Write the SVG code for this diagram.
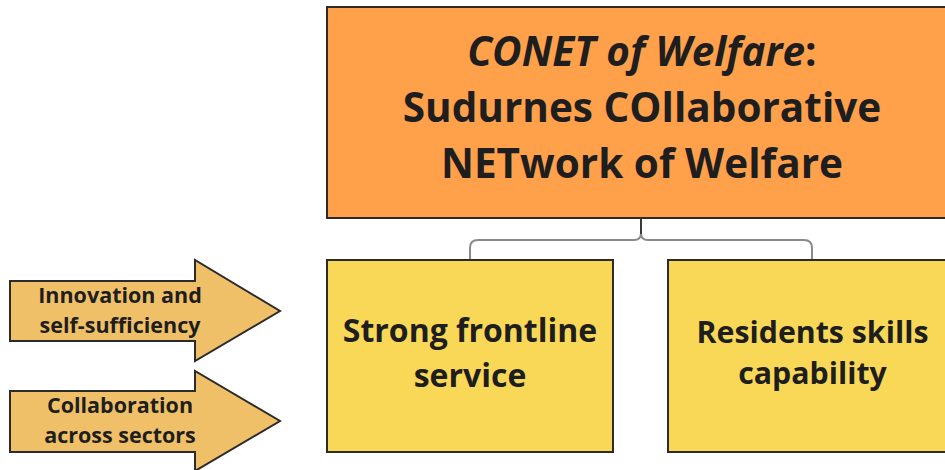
<svg xmlns="http://www.w3.org/2000/svg" width="945" height="470" viewBox="0 0 945 470">
<style>
.box{stroke:#2b2b2b;stroke-width:2}
.t{font-family:"Open Sans","Noto Sans",sans-serif;font-weight:bold;fill:#1e1e1e;text-anchor:middle}
.conn{fill:none;stroke:#8a8a8a;stroke-width:2}
</style>
<rect width="945" height="470" fill="#ffffff"/>
<g id="title">
<rect class="box" x="327" y="7" width="632" height="211" fill="#FFA04B"/>
<text class="t" x="642" y="66" font-size="40.5"><tspan font-style="italic">CONET of Welfare</tspan>:</text>
<text class="t" x="642" y="122" font-size="40.5">Sudurnes COllaborative</text>
<text class="t" x="642" y="178" font-size="40.5">NETwork of Welfare</text>
</g>
<g id="connectors">
<path class="conn" d="M641 218 V233 Q641 240 634 240 H478 Q470 240 470 248 V260"/>
<path class="conn" d="M641 233 Q641 240 648 240 H804 Q812 240 812 248 V260"/>
<line x1="641" y1="218" x2="641" y2="234" stroke="#1e1e1e" stroke-width="1.5"/>
</g>
<g id="frontline">
<rect class="box" x="327" y="260" width="286" height="192" fill="#F9D858"/>
<text class="t" x="470" y="342" font-size="32">Strong frontline</text>
<text class="t" x="470" y="387" font-size="32">service</text>
</g>
<g id="residents">
<rect class="box" x="668" y="260" width="292" height="192" fill="#F9D858"/>
<text class="t" x="812.5" y="343" font-size="30.3">Residents skills</text>
<text class="t" x="812.5" y="384" font-size="30.3">capability</text>
</g>
<g id="innovation">
<polygon class="box" points="10,281 195,281 195,260 280,311 195,361 195,341 10,341" fill="#F0C068"/>
<text class="t" x="120" y="303" font-size="21.5">Innovation and</text>
<text class="t" x="120" y="333" font-size="21.5">self-sufficiency</text>
</g>
<g id="collaboration">
<polygon class="box" points="10,391 195,391 195,371 280,421 195,471 195,452 10,452" fill="#F0C068"/>
<text class="t" x="120" y="413" font-size="21.5">Collaboration</text>
<text class="t" x="120" y="443" font-size="21.5">across sectors</text>
</g>
</svg>
